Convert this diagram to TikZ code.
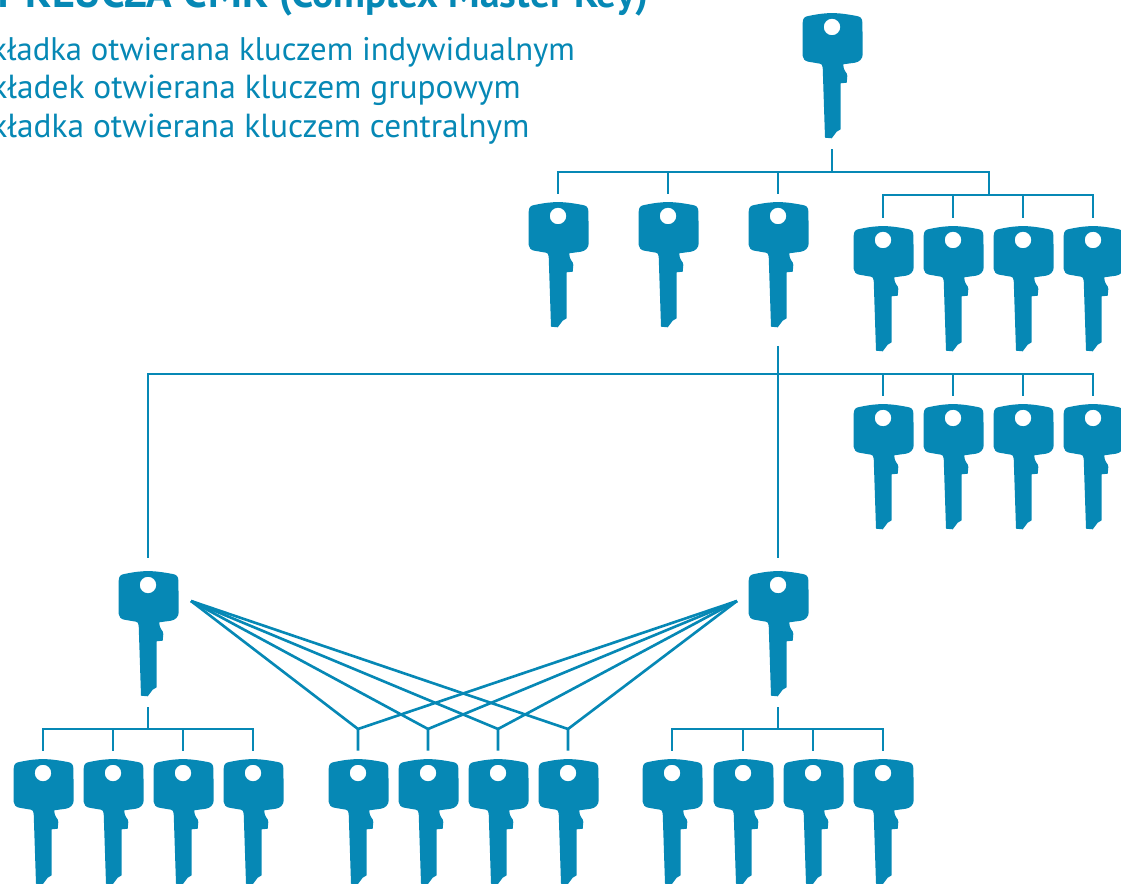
\documentclass[tikz,border=0pt]{standalone}
\usepackage{fontspec}
\setmainfont{PT Sans}
\usetikzlibrary{positioning}
\definecolor{mkey}{HTML}{0688B5}
\tikzstyle{l2}=[line width=1.5pt, draw=mkey]
\tikzstyle{tline}=[text=mkey, anchor=base west, inner sep=0pt, font=\fontsize{18.6}{22}\selectfont]
\tikzstyle{tlinew}=[tline, font=\fontsize{19}{22}\selectfont]
\tikzstyle{ttitle}=[text=mkey, anchor=base west, inner sep=0pt, font=\bfseries\fontsize{24}{28}\selectfont]
\tikzstyle{keynode}=[minimum width=1.26cm, minimum height=2.58cm, inner sep=0pt, outer ysep=0.16cm,
    path picture={
        \fill[mkey, even odd rule, shift={(path picture bounding box.center)}]
            (-29.3,-54.3) .. controls (-29.3,-59) and (-27,-60.5) .. (-23.7,-61)
            .. controls (-14,-63) and (-7,-63.9) .. (0,-63.9)
            .. controls (7,-63.9) and (14,-63) .. (24.7,-61)
            .. controls (28,-60.5) and (30.4,-59) .. (30.4,-54.3)
            -- (30.7,-22.7)
            .. controls (30.7,-18) and (27,-15) .. (23,-14.3)
            -- (11.3,-12.7)
            .. controls (11.5,-9) and (12,-7.5) .. (13,-6)
            .. controls (14.5,-4) and (15.3,-3) .. (15.3,-1)
            -- (14.7,5.7) -- (8.7,6.3) -- (8.7,52.3) -- (4.7,54.7) -- (-0.3,61.3) -- (-7,60.7)
            -- (-9.3,-9.3)
            .. controls (-9.5,-12) and (-10.5,-13) .. (-12,-13.3)
            -- (-23.7,-15.3)
            .. controls (-27,-16) and (-29.3,-18) .. (-29.3,-21)
            -- cycle
            (8.3,-50) arc[start angle=0, end angle=360, radius=8.3];
    }]
\begin{document}
\begin{tikzpicture}[x=0.02cm, y=-0.02cm]
    \useasboundingbox (0,0) rectangle (1121,884);

    % legend
    \node[ttitle] (title) at (-3,7.5) {{\addfontfeature{LetterSpace=2}I\hspace{0.1em} KLUCZA CMK} {\fontsize{22.5}{26}\selectfont(Complex Master Key)}};
    \node[tline] (t1) at (-9,61) {kładka otwierana kluczem indywidualnym};
    \node[tlinew] (t2) at (-9,99) {kładek otwierana kluczem grupowym};
    \node[tlinew] (t3) at (-9,138) {kładka otwierana kluczem centralnym};

    % keys
    \node[keynode] (k0) at (832,77) {};

    \node[keynode] (a1) at (558,266) {};
    \node[keynode] (a2) at (668,266) {};
    \node[keynode] (a3) at (778,266) {};

    \node[keynode] (b1) at (883,290) {};
    \node[keynode] (b2) at (953,290) {};
    \node[keynode] (b3) at (1023,290) {};
    \node[keynode] (b4) at (1093,290) {};

    \node[keynode] (c1) at (883,468) {};
    \node[keynode] (c2) at (953,468) {};
    \node[keynode] (c3) at (1023,468) {};
    \node[keynode] (c4) at (1093,468) {};

    \node[keynode] (gl) at (148,635) {};
    \node[keynode] (gr) at (778,635) {};

    \node[keynode] (d1) at (43,823) {};
    \node[keynode] (d2) at (113,823) {};
    \node[keynode] (d3) at (183,823) {};
    \node[keynode] (d4) at (253,823) {};

    \node[keynode] (e1) at (358,823) {};
    \node[keynode] (e2) at (428,823) {};
    \node[keynode] (e3) at (498,823) {};
    \node[keynode] (e4) at (568,823) {};

    \node[keynode] (f1) at (672,823) {};
    \node[keynode] (f2) at (743,823) {};
    \node[keynode] (f3) at (813,823) {};
    \node[keynode] (f4) at (883,823) {};

    % bus heights and free ends
    \coordinate (busa) at (0,172);
    \coordinate (busb) at (0,195);
    \coordinate (busc) at (0,374);
    \coordinate (busd) at (0,729);
    \coordinate (jb) at (989,172);
    \coordinate (ja) at (778,346);
    \coordinate (fanl) at (191,601);
    \coordinate (fanr) at (737,601);

    % top key
    \draw[l2] (k0.south) -- (k0.south |- busa);
    \draw[l2] (a1.north) |- (jb) -- (jb |- busb);
    \draw[l2] (a2.north) -- (a2.north |- busa);
    \draw[l2] (a3.north) -- (a3.north |- busa);
    \draw[l2] (b1.north) |- (b4.north |- busb) -- (b4.north);
    \draw[l2] (b2.north) -- (b2.north |- busb);
    \draw[l2] (b3.north) -- (b3.north |- busb);

    % central key
    \draw[l2, shorten >=0.1cm] (ja) -- (gr.north);
    \draw[l2, shorten <=0.1cm] (gl.north) |- (c4.north |- busc) -- (c4.north);
    \draw[l2] (c1.north) -- (c1.north |- busc);
    \draw[l2] (c2.north) -- (c2.north |- busc);
    \draw[l2] (c3.north) -- (c3.north |- busc);

    % left group
    \draw[l2] (gl.south) -- (gl.south |- busd);
    \draw[l2] (d1.north) |- (d4.north |- busd) -- (d4.north);
    \draw[l2] (d2.north) -- (d2.north |- busd);
    \draw[l2] (d3.north) -- (d3.north |- busd);

    % right group
    \draw[l2] (gr.south) -- (gr.south |- busd);
    \draw[l2] (f1.north) |- (f4.north |- busd) -- (f4.north);
    \draw[l2] (f2.north) -- (f2.north |- busd);
    \draw[l2] (f3.north) -- (f3.north |- busd);

    % shared keys
    \draw[l2] (e1.north) -- (e1.north |- busd) -- (fanl);
    \draw[l2] (e2.north) -- (e2.north |- busd) -- (fanl);
    \draw[l2] (e3.north) -- (e3.north |- busd) -- (fanl);
    \draw[l2] (e4.north) -- (e4.north |- busd) -- (fanl);
    \draw[l2] (e1.north |- busd) -- (fanr);
    \draw[l2] (e2.north |- busd) -- (fanr);
    \draw[l2] (e3.north |- busd) -- (fanr);
    \draw[l2] (e4.north |- busd) -- (fanr);
\end{tikzpicture}
\end{document}
